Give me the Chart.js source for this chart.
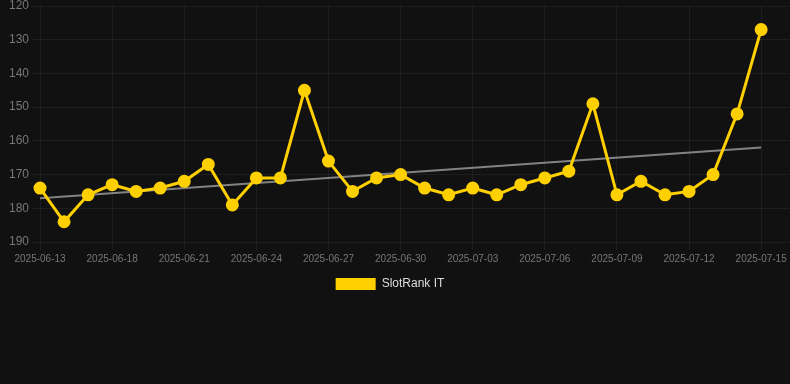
<!DOCTYPE html>
<html>
<head>
<meta charset="utf-8">
<script src="https://cdn.jsdelivr.net/npm/chart.js@4"></script>
<style>
    html, body { margin: 0; padding: 0; background: #111111; }
    #wrap { position: relative; width: 790px; height: 300px; }
</style>
</head>
<body>
<div id="wrap"><canvas id="chart"></canvas></div>
<script>
// Dates of each ranking snapshot (category labels)
const dates = [
    '2025-06-13', '2025-06-16', '2025-06-17', '2025-06-18', '2025-06-19', '2025-06-20',
    '2025-06-21', '2025-06-22', '2025-06-23', '2025-06-24', '2025-06-25', '2025-06-26',
    '2025-06-27', '2025-06-28', '2025-06-29', '2025-06-30', '2025-07-01', '2025-07-02',
    '2025-07-03', '2025-07-04', '2025-07-05', '2025-07-06', '2025-07-07', '2025-07-08',
    '2025-07-09', '2025-07-10', '2025-07-11', '2025-07-12', '2025-07-13', '2025-07-14',
    '2025-07-15'
];

// SlotRank position per day (lower is better)
const positions = [
    174, 184, 176, 173, 175, 174, 172, 167, 179, 171, 171, 145,
    166, 175, 171, 170, 174, 176, 174, 176, 173, 171, 169, 149,
    176, 172, 176, 175, 170, 152, 127
];

// Trend line end points
const trendStart = 177;
const trendEnd = 162;

const yTicks = [120, 130, 140, 150, 160, 170, 180, 190];

// nudge the legend a bit left, like the original
const legendShift = {
    id: 'legendShift',
    afterLayout(chart) {
        if (chart.legend) {
            chart.legend.left -= 8;
            chart.legend.right -= 8;
        }
    }
};

const ctx = document.getElementById('chart').getContext('2d');

new Chart(ctx, {
    type: 'line',
    data: {
        datasets: [
            {
                label: 'SlotRank IT',
                data: positions.map((v, i) => ({ x: i, y: v })),
                borderColor: '#FFD000',
                backgroundColor: '#FFD000',
                borderWidth: 3,
                pointRadius: 5,
                pointHoverRadius: 6,
                pointBackgroundColor: '#FFD000',
                pointBorderColor: '#FFD000',
                fill: false,
                clip: false,
                tension: 0
            },
            {
                label: 'trend',
                data: [
                    { x: 0, y: trendStart },
                    { x: dates.length - 1, y: trendEnd }
                ],
                borderColor: 'rgba(150, 150, 150, 0.85)',
                borderWidth: 2,
                pointRadius: 0,
                fill: false,
                clip: false,
                tension: 0
            }
        ]
    },
    options: {
        responsive: true,
        maintainAspectRatio: false,
        animation: false,
        layout: { autoPadding: false, padding: { left: 6 } },
        scales: {
            x: {
                type: 'linear',
                min: 0,
                max: 31.2,
                grid: { color: 'rgba(255, 255, 255, 0.055)', tickLength: 8 },
                border: { display: false },
                afterFit: (s) => { s.paddingRight = 0; },
                ticks: {
                    stepSize: 3,
                    includeBounds: false,
                    maxRotation: 0,
                    color: '#777',
                    font: { family: 'Liberation Sans, Arial, sans-serif', size: 10 },
                    callback: (v) => dates[v] || ''
                }
            },
            y: {
                reverse: true,
                min: 120,
                max: 190,
                grid: { color: 'rgba(255, 255, 255, 0.055)', tickLength: 8 },
                border: { display: false },
                afterBuildTicks: (axis) => { axis.ticks = yTicks.map(v => ({ value: v })); },
                afterFit: (s) => { s.paddingTop = 6; },
                ticks: {
                    color: '#777',
                    font: { family: 'Liberation Sans, Arial, sans-serif', size: 12 }
                }
            }
        },
        plugins: {
            legend: {
                position: 'bottom',
                labels: {
                    color: '#ddd',
                    font: { family: 'Liberation Sans, Arial, sans-serif', size: 12 },
                    filter: (item) => item.text !== 'trend',
                    generateLabels: (chart) => Chart.defaults.plugins.legend.labels
                        .generateLabels(chart)
                        .map(item => ({ ...item, lineWidth: 0 }))
                }
            },
            tooltip: { enabled: false }
        }
    },
    plugins: [legendShift]
});
</script>
</body>
</html>
